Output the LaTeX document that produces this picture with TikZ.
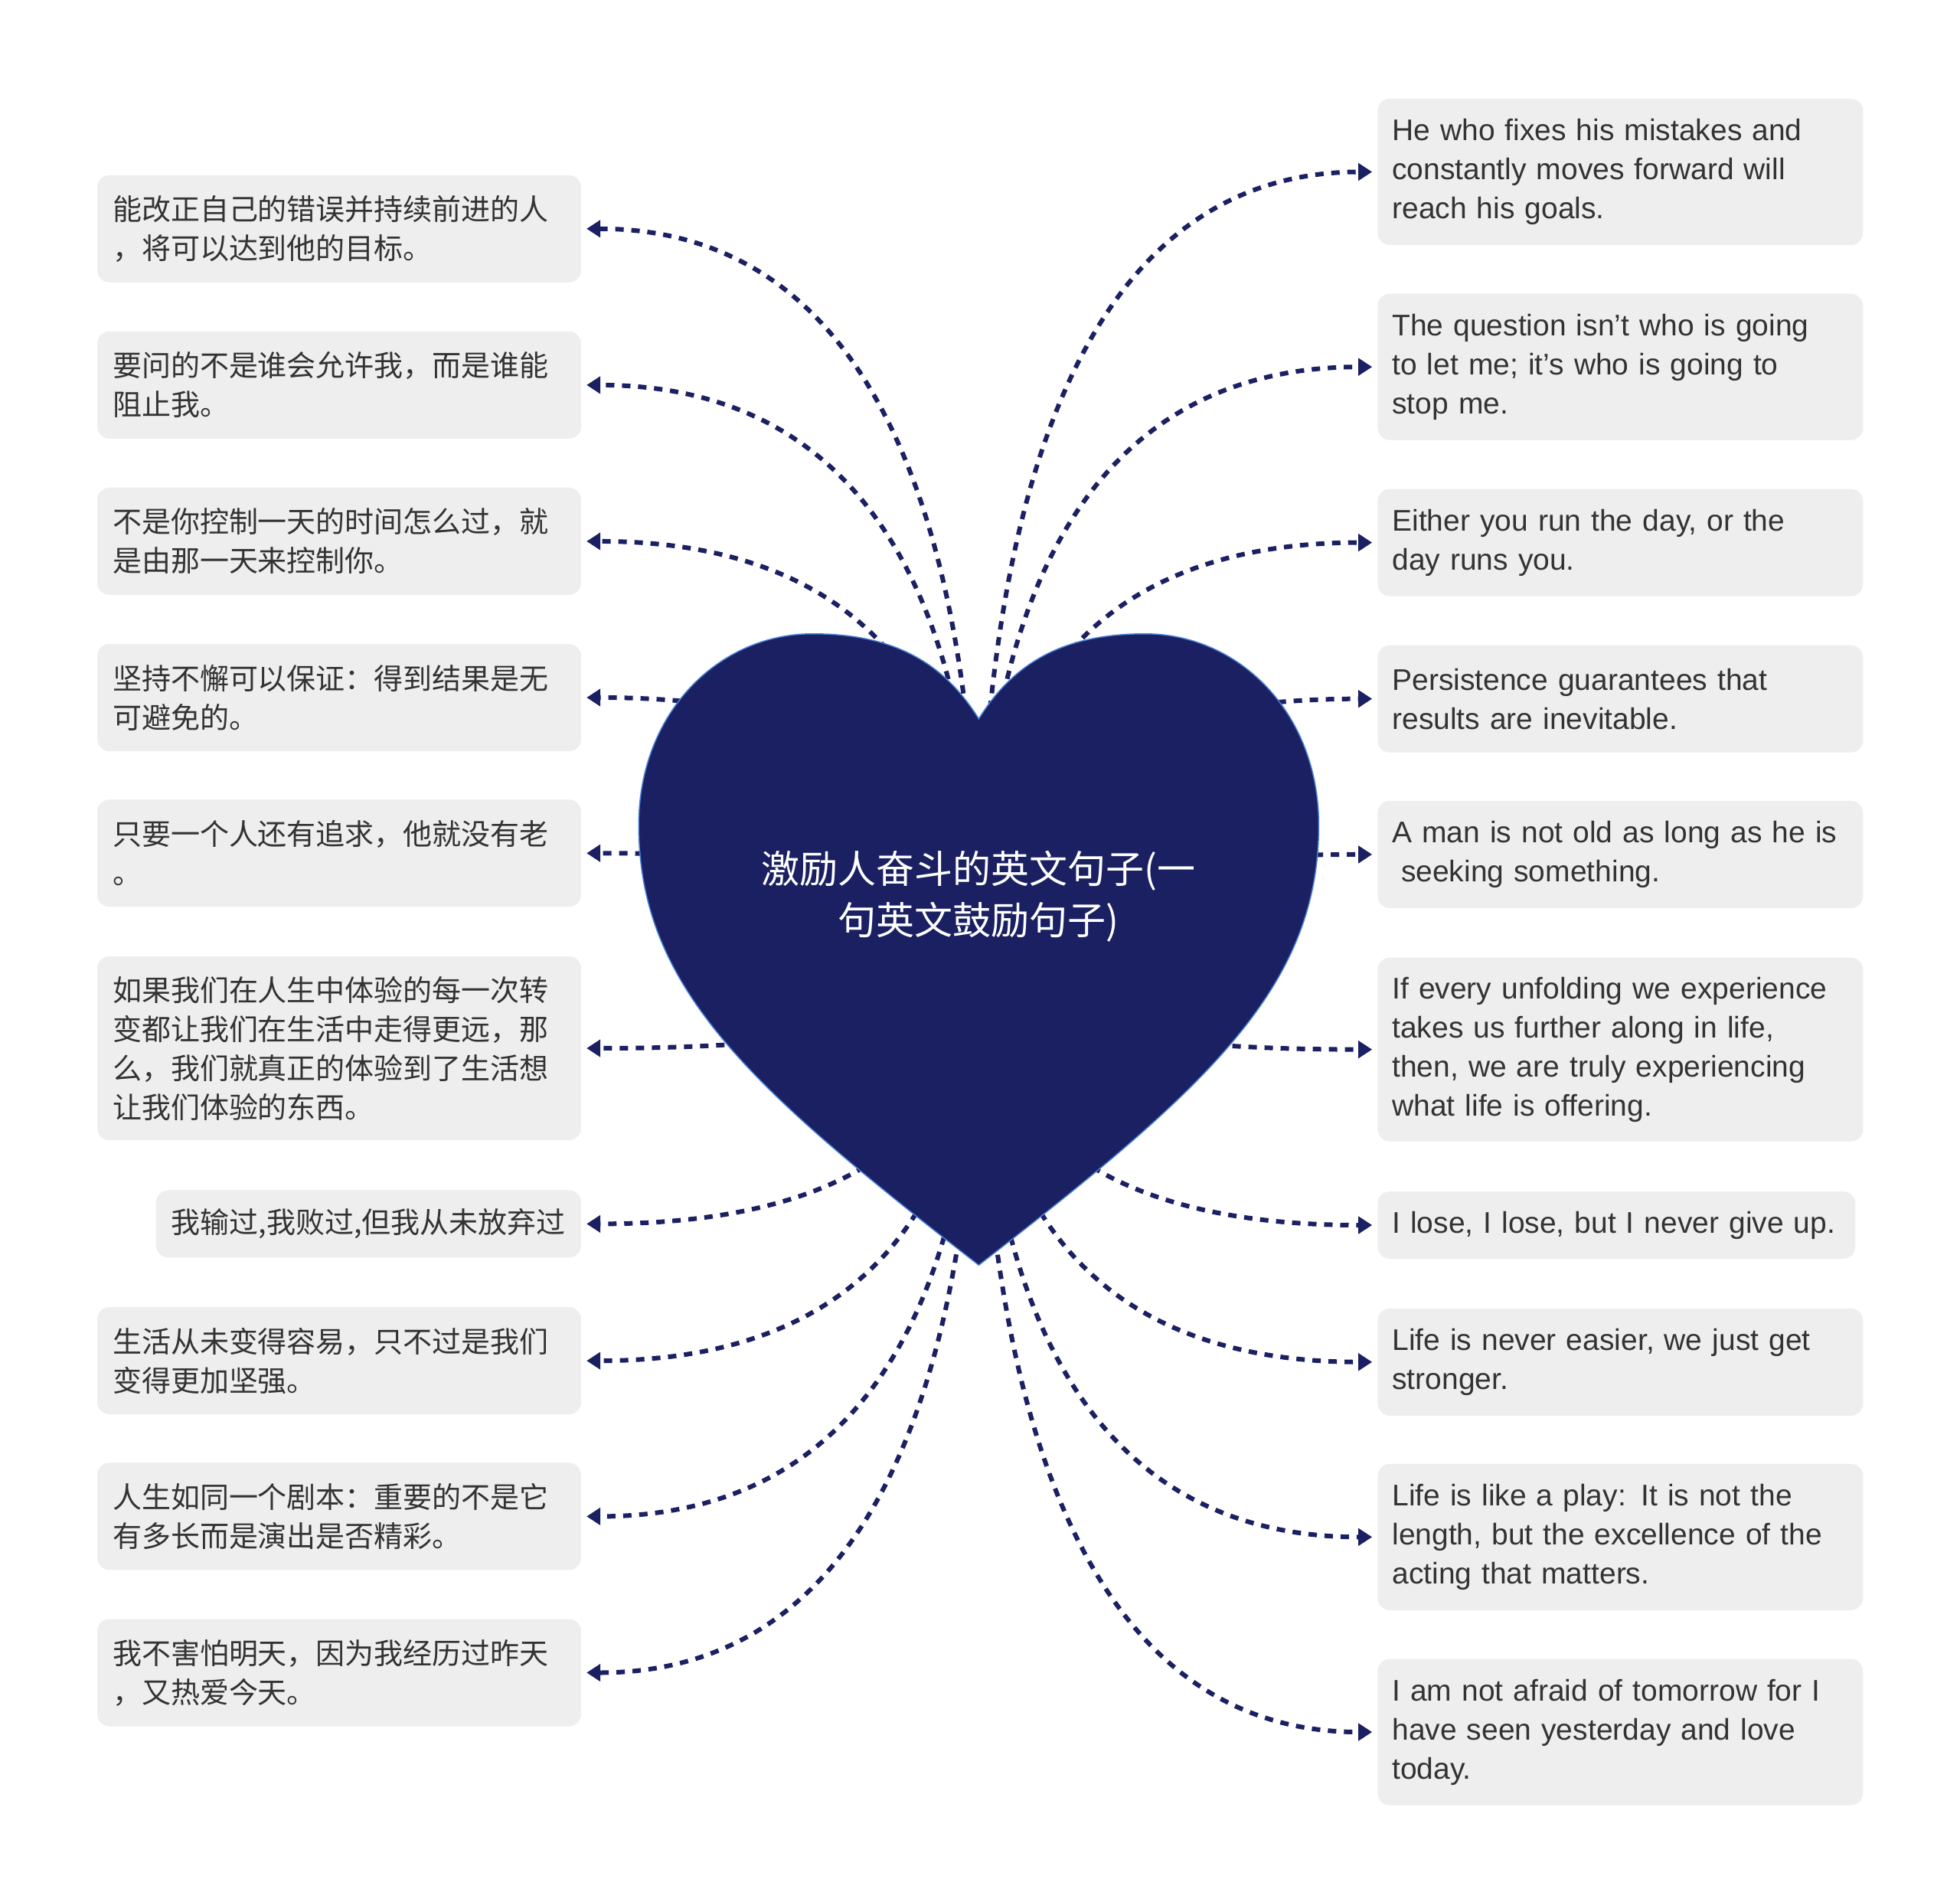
\documentclass[tikz,border=0pt]{standalone}
\usepackage{fontspec}
\setmainfont{Liberation Sans}
\newfontfamily\cjk{Noto Sans CJK SC}
\usetikzlibrary{arrows.meta,calc}
\definecolor{navy}{HTML}{1A2062}
\definecolor{heartline}{HTML}{4A80D8}
\definecolor{boxfill}{HTML}{EEEEEE}
\definecolor{txt}{HTML}{333333}
\newcommand\mylink[2]{%
  \coordinate (k) at (c |- #1.#2);
  \draw[conn] (c) .. controls ($(c)!0.6667!(k)$) and ($(#1.#2)!0.6667!(k)$) .. (#1.#2);}
\tikzset{
  boxbase/.style={rectangle, rounded corners=16pt, fill=boxfill, text=txt,
    inner xsep=20pt, inner ysep=0pt, align=left},
  lbox/.style={boxbase, anchor=east, text width=592pt, font=\cjk\fontsize{38}{51}\selectfont},
  lboxn/.style={boxbase, anchor=east, font=\cjk\fontsize{38}{51}\selectfont},
  rbox/.style={boxbase, anchor=west, inner xsep=19pt, text width=596pt, font=\fontsize{39}{51}\selectfont},
  conn/.style={draw=navy, line width=6pt, dash pattern=on 11pt off 10pt,
    -{Triangle[length=18pt,width=22pt]}, shorten >=7pt},
}
\begin{document}
\begin{tikzpicture}[x=1.6327pt, y=-1.6327pt]
\fill[white] (0,0) rectangle (1568,1521);
\useasboundingbox (0,0) rectangle (1568,1521);
\coordinate (c) at (783,760);

% left boxes
\node[lbox, minimum height=140pt] (L1) at (465,183) {能改正自己的错误并持续前进的人\\，将可以达到他的目标。};
\node[lbox, minimum height=140pt] (L2) at (465,308) {要问的不是谁会允许我，而是谁能\\阻止我。};
\node[lbox, minimum height=140pt] (L3) at (465,433) {不是你控制一天的时间怎么过，就\\是由那一天来控制你。};
\node[lbox, minimum height=140pt] (L4) at (465,558) {坚持不懈可以保证：得到结果是无\\可避免的。};
\node[lbox, minimum height=140pt] (L5) at (465,682.5) {只要一个人还有追求，他就没有老\\。};
\node[lbox, minimum height=240pt] (L6) at (465,838.5) {如果我们在人生中体验的每一次转\\变都让我们在生活中走得更远，那\\么，我们就真正的体验到了生活想\\让我们体验的东西。};
\node[lboxn, minimum height=88pt] (L7) at (465,979) {我输过,我败过,但我从未放弃过};
\node[lbox, minimum height=140pt] (L8) at (465,1088.5) {生活从未变得容易，只不过是我们\\变得更加坚强。};
\node[lbox, minimum height=140pt] (L9) at (465,1213) {人生如同一个剧本：重要的不是它\\有多长而是演出是否精彩。};
\node[lbox, minimum height=140pt] (L10) at (465,1338) {我不害怕明天，因为我经历过昨天\\，又热爱今天。};

% right boxes
\node[rbox, minimum height=191pt] (R1) at (1102,137.5) {He who fixes his mistakes and\\constantly moves forward will\\reach his goals.};
\node[rbox, minimum height=191pt] (R2) at (1102,293.5) {The question isn’t who is going\\to let me; it’s who is going to\\stop me.};
\node[rbox, minimum height=140pt] (R3) at (1102,434) {Either you run the day, or the\\day runs you.};
\node[rbox, minimum height=140pt] (R4) at (1102,559) {Persistence guarantees that\\results are inevitable.};
\node[rbox, minimum height=140pt] (R5) at (1102,683.5) {A man is not old as long as he is\\\hspace*{0.3em}seeking something.};
\node[rbox, minimum height=240pt] (R6) at (1102,839.5) {If every unfolding we experience\\takes us further along in life,\\then, we are truly experiencing\\what life is offering.};
\node[rbox, text width=586pt, minimum height=88pt] (R7) at (1102,980) {I lose, I lose, but I never give up.};
\node[rbox, minimum height=140pt] (R8) at (1102,1089.5) {Life is never easier, we just get\\stronger.};
\node[rbox, minimum height=191pt] (R9) at (1102,1229.5) {Life is like a play: It is not the\\length, but the excellence of the\\acting that matters.};
\node[rbox, minimum height=191pt] (R10) at (1102,1385.5) {I am not afraid of tomorrow for I\\have seen yesterday and love\\today.};

% connectors
\mylink{L1}{east}\mylink{L2}{east}\mylink{L3}{east}\mylink{L4}{east}\mylink{L5}{east}
\mylink{L6}{east}\mylink{L7}{east}\mylink{L8}{east}\mylink{L9}{east}\mylink{L10}{east}
\mylink{R1}{west}\mylink{R2}{west}\mylink{R3}{west}\mylink{R4}{west}\mylink{R5}{west}
\mylink{R6}{west}\mylink{R7}{west}\mylink{R8}{west}\mylink{R9}{west}\mylink{R10}{west}

% heart
\path[draw=heartline, line width=1.5pt, fill=navy]
  (783,1012) .. controls (600,870) and (511,790) .. (511,660)
  .. controls (511,570) and (575,507) .. (650,507)
  .. controls (715,507) and (755,530) .. (783,575)
  .. controls (811,530) and (851,507) .. (916,507)
  .. controls (991,507) and (1055,570) .. (1055,660)
  .. controls (1055,790) and (966,870) .. (783,1012) -- cycle;
\node[text=white, align=center, font=\cjk\fontsize{50}{67}\selectfont] (title) at (783,717) {激励人奋斗的英文句子(一\\句英文鼓励句子)};
\end{tikzpicture}
\end{document}
